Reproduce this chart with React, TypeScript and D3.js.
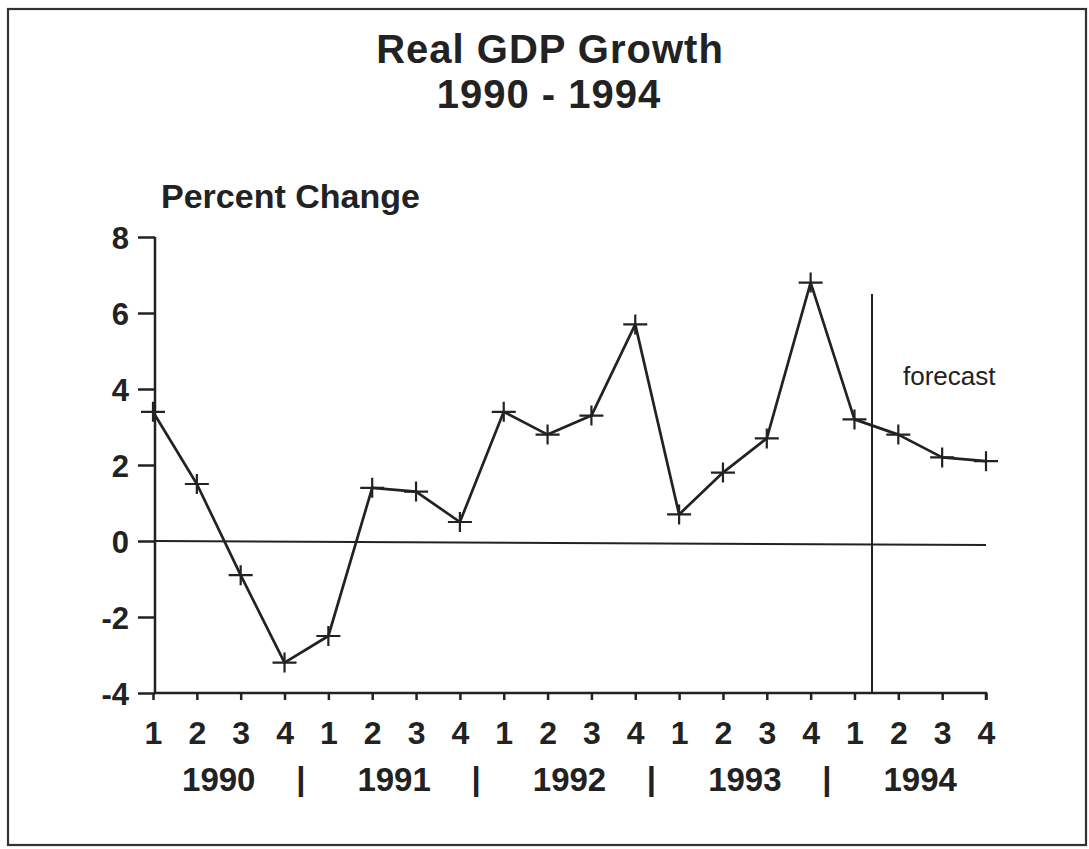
import React, { useEffect, useRef } from 'react';
import * as d3 from 'd3';

const years = ['1990', '1991', '1992', '1993', '1994'];
const quarters = ['1', '2', '3', '4'];
const growth = [
  3.4, 1.5, -0.9, -3.2,
  -2.5, 1.4, 1.3, 0.5,
  3.4, 2.8, 3.3, 5.7,
  0.7, 1.8, 2.7, 6.8,
  3.2, 2.8, 2.2, 2.1,
];
const yTicks = [-4, -2, 0, 2, 4, 6, 8];
const forecastAt = 16.4; // index position of the forecast divider

const FONT = '"Liberation Sans", Arial, Helvetica, sans-serif';

const App = () => {
  const ref = useRef<SVGSVGElement>(null);

  useEffect(() => {
    drawChart(ref);
  }, [ref]);

  return (
    <svg
      ref={ref}
      width={1089}
      height={849}
      style={{ position: 'absolute', left: 0, top: 0, background: '#fff' }}
    />
  );
};

function drawChart(ref: React.RefObject<SVGSVGElement>) {
  const svg = d3.select(ref.current);
  svg.selectAll('*').remove();

  const left = 153,
    right = 986,
    top = 237,
    bottom = 693;

  // frame
  svg
    .append('rect')
    .attr('x', 8)
    .attr('y', 9)
    .attr('width', 1078)
    .attr('height', 836)
    .attr('fill', 'none')
    .attr('stroke', '#333')
    .attr('stroke-width', 2.2);

  const labels = years.flatMap((yr) => quarters.map((q) => yr + '-' + q));
  const x = d3.scalePoint<string>().domain(labels).range([left, right]);
  const xi = d3.scaleLinear().domain([0, labels.length - 1]).range([left, right]);
  const y = d3.scaleLinear().domain([-4, 8]).range([bottom, top]);

  // titles
  svg
    .append('text')
    .attr('x', 550)
    .attr('y', 63)
    .attr('text-anchor', 'middle')
    .style('font-family', FONT)
    .style('font-weight', 'bold')
    .style('font-size', '40px')
    .style('letter-spacing', '1px')
    .style('fill', '#222')
    .text('Real GDP Growth');
  svg
    .append('text')
    .attr('x', 549)
    .attr('y', 108)
    .attr('text-anchor', 'middle')
    .style('font-family', FONT)
    .style('font-weight', 'bold')
    .style('font-size', '40px')
    .style('letter-spacing', '1px')
    .style('fill', '#222')
    .text('1990 - 1994');
  svg
    .append('text')
    .attr('x', 161)
    .attr('y', 208)
    .style('font-family', FONT)
    .style('font-weight', 'bold')
    .style('font-size', '34px')
    .style('fill', '#222')
    .text('Percent Change');

  // Y axis
  const yAxis = svg
    .append('g')
    .attr('transform', 'translate(' + (left + 2) + ',0)')
    .call(
      d3
        .axisLeft(y)
        .tickValues(yTicks)
        .tickSize(17)
        .tickPadding(9)
        .tickFormat((d) => String(d))
    );
  yAxis.select('.domain').attr('d', 'M0,' + top + 'V' + bottom);
  yAxis.selectAll('line').attr('stroke', '#222').attr('stroke-width', 2.5);
  yAxis.select('.domain').attr('stroke', '#222').attr('stroke-width', 2.5);
  yAxis
    .selectAll('text')
    .style('font-family', FONT)
    .style('font-weight', 'bold')
    .style('font-size', '31px')
    .style('fill', '#222')
    .attr('dy', '0.36em');

  // X axis
  const xAxis = svg
    .append('g')
    .attr('transform', 'translate(0,' + bottom + ')')
    .call(
      d3
        .axisBottom(x)
        .tickSize(7)
        .tickFormat((d) => d.split('-')[1])
    );
  xAxis
    .select('.domain')
    .attr('d', 'M' + (left + 2) + ',0H' + right + 'V7')
    .attr('stroke', '#222')
    .attr('stroke-width', 2.5);
  xAxis.selectAll('line').attr('stroke', '#222').attr('stroke-width', 2.5);
  xAxis
    .selectAll('text')
    .attr('y', 51)
    .attr('dy', '0')
    .style('font-family', FONT)
    .style('font-weight', 'bold')
    .style('font-size', '32px')
    .style('fill', '#222');

  // year labels and separators
  years.forEach((yr, i) => {
    svg
      .append('text')
      .attr('x', xi(i * 4 + 1.5))
      .attr('y', 791)
      .attr('text-anchor', 'middle')
      .style('font-family', FONT)
      .style('font-weight', 'bold')
      .style('font-size', '33px')
      .style('fill', '#222')
      .text(yr);
    if (i > 0) {
      svg
        .append('text')
        .attr('x', xi(i * 4 - 0.63))
        .attr('y', 790)
        .attr('text-anchor', 'middle')
        .style('font-family', FONT)
        .style('font-weight', 'bold')
        .style('font-size', '33px')
        .style('fill', '#222')
        .text('|');
    }
  });

  // zero line
  svg
    .append('line')
    .attr('x1', left + 2)
    .attr('x2', right)
    .attr('y1', y(0))
    .attr('y2', y(0) + 4)
    .attr('stroke', '#222')
    .attr('stroke-width', 2);

  // forecast divider
  svg
    .append('line')
    .attr('x1', xi(forecastAt))
    .attr('x2', xi(forecastAt))
    .attr('y1', y(6.5))
    .attr('y2', bottom)
    .attr('stroke', '#222')
    .attr('stroke-width', 2);
  svg
    .append('text')
    .attr('x', xi(forecastAt) + 31)
    .attr('y', 385)
    .style('font-family', FONT)
    .style('font-size', '26px')
    .style('fill', '#222')
    .text('forecast');

  // series line
  svg
    .append('path')
    .datum(growth)
    .attr('fill', 'none')
    .attr('stroke', '#222')
    .attr('stroke-width', 2.7)
    .attr('stroke-linejoin', 'round')
    .attr(
      'd',
      d3
        .line<number>()
        .x((_, i) => xi(i))
        .y((v) => y(v))
    );

  // plus markers
  svg
    .selectAll('.mark')
    .data(growth)
    .enter()
    .append('path')
    .attr('class', 'mark')
    .attr('d', (v, i) => {
      const cx = xi(i),
        cy = y(v);
      return 'M' + (cx - 12) + ',' + cy + 'H' + (cx + 12) + 'M' + cx + ',' + (cy - 10) + 'V' + (cy + 10);
    })
    .attr('fill', 'none')
    .attr('stroke', '#222')
    .attr('stroke-width', 2.2);
}

export default App;
